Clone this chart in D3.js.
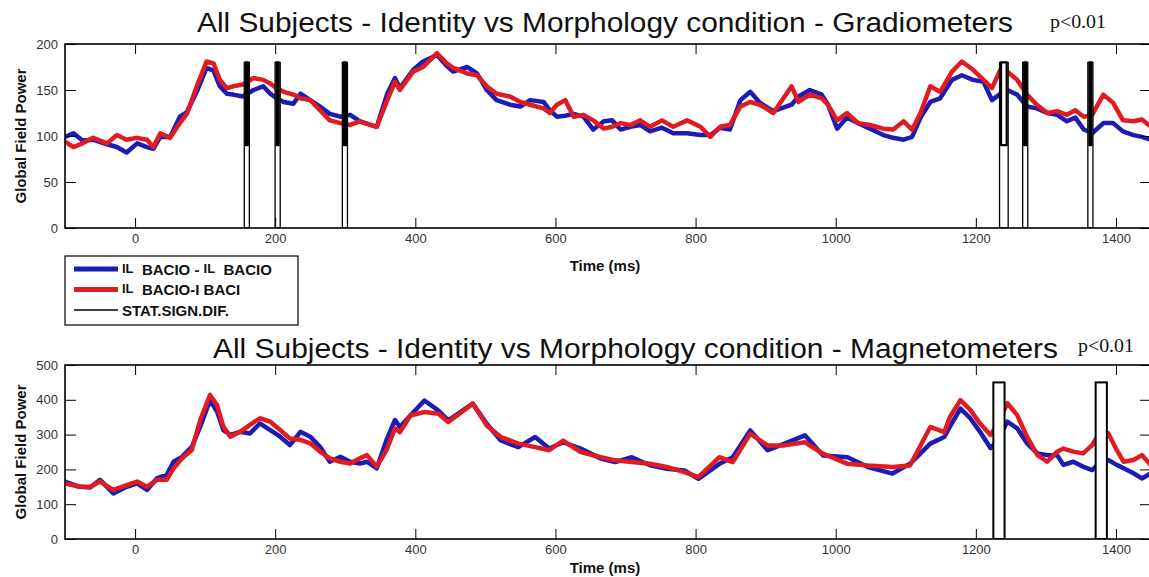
<!DOCTYPE html>
<html><head><meta charset="utf-8">
<script src="https://cdn.jsdelivr.net/npm/d3@7"></script>
<style>body{margin:0;background:#fff}svg{display:block}</style>
</head><body><svg id="c" width="1149" height="577"></svg>
<script>
// ---------- data ----------
const xTicks = [0,200,400,600,800,1000,1200,1400];
const gradYTicks = [0,50,100,150,200];
const magYTicks = [0,100,200,300,400,500];

const gradTime = [-100,-88,-75,-60,-40,-26,-12,3,17,26,36,50,64,74,88,102,112,121,131,140,154,169,183,193,202,212,226,236,250,264,278,293,307,321,336,345,360,371,378,397,411,431,445,454,474,488,502,516,535,550,564,583,592,602,614,626,640,654,669,681,693,707,721,735,752,768,788,807,821,835,849,864,878,892,911,937,947,963,980,989,1002,1016,1032,1049,1068,1082,1097,1109,1121,1135,1149,1166,1180,1196,1211,1223,1235,1240,1245,1259,1273,1287,1302,1316,1330,1342,1354,1366,1382,1396,1410,1425,1437,1450];
const gradSame = [99,103,95,96,91,88,82,92,88,86,99,99,121,126,148,174,171,154,146,145,143,150,154,146,141,137,135,146,139,132,124,121,123,116,112,110,146,163,152,172,181,188,176,170,175,168,150,139,134,132,139,137,128,121,122,124,121,107,116,117,107,110,112,105,109,103,103,101,101,109,107,139,148,136,127,134,143,150,145,134,108,120,114,108,101,98,96,99,120,137,141,161,166,161,159,139,146,149,150,145,132,130,125,123,116,120,107,103,114,114,105,101,99,96];
const gradDiff = [94,88,92,98,92,101,96,98,96,88,103,98,114,124,154,181,179,161,152,154,156,163,161,157,152,148,145,141,139,128,117,114,112,116,112,110,139,159,150,170,175,190,179,174,168,166,154,146,143,137,134,130,125,134,139,121,123,117,108,110,114,112,117,110,117,110,117,110,99,110,112,132,137,134,125,154,137,145,141,134,117,125,114,112,108,107,116,107,125,154,148,170,181,172,161,152,172,177,170,161,145,134,125,127,123,128,121,123,145,136,117,116,118,110];
const gradSig = [[158,161],[202,205],[298,301],[1236,1244],[1269,1272],[1362,1365]];
const gradSigLevels = [0,90,180];

const magTime = [-100,-79,-64,-50,-31,-12,3,17,31,45,55,67,81,93,107,117,126,136,150,164,178,193,207,221,236,250,264,278,293,307,321,331,345,359,371,378,393,413,433,447,482,502,522,547,571,591,611,636,665,685,709,735,759,784,804,834,853,878,903,927,956,982,1017,1046,1081,1106,1135,1155,1163,1178,1192,1206,1221,1230,1245,1259,1273,1288,1302,1316,1325,1339,1353,1366,1378,1389,1401,1411,1425,1437,1450];
const magSame = [165,150,148,170,131,150,160,141,174,184,222,236,265,323,399,366,313,299,308,303,332,313,294,270,308,294,265,222,236,222,217,222,203,285,342,322,355,398,369,341,389,331,283,264,293,260,278,260,231,221,235,212,202,197,173,216,235,312,255,274,298,240,235,207,188,216,274,293,323,375,347,308,261,280,337,318,275,246,241,241,213,222,208,198,222,227,213,203,189,174,189];
const magDiff = [160,150,150,165,141,155,165,150,170,170,203,232,256,342,414,385,323,294,308,328,347,337,313,289,285,275,251,232,222,217,232,241,208,256,318,307,355,365,360,336,389,326,293,274,264,255,283,250,235,226,221,216,207,192,178,235,221,302,269,269,278,245,216,211,207,211,322,307,351,399,371,332,299,327,390,356,294,241,222,251,260,251,246,270,308,304,256,222,227,241,212];
const magSig = [[1225,1241],[1371,1387]];
const magSigLevels = [0,450];

const titles = ["All Subjects - Identity vs Morphology condition - Gradiometers",
                "All Subjects - Identity vs Morphology condition - Magnetometers"];
const pLabel = "p<0.01";
const yLabel = "Global Field Power";
const xLabel = "Time (ms)";
const legendItems = [
  {pre:"IL", text:"  BACIO - ", pre2:"IL", text2:"  BACIO", color:"#1c1cb4", w:5},
  {pre:"IL", text:"  BACIO-I BACI", color:"#e01c22", w:5},
  {pre:"", text:"STAT.SIGN.DIF.", color:"#000", w:1.5}
];

// ---------- drawing ----------
const svg = d3.select('#c');
const sans = '"Liberation Sans", Arial, Helvetica, sans-serif';
const serif = '"Liberation Serif", "Times New Roman", serif';
const L = 65, R = 1151;
const x = d3.scaleLinear().domain([-100,1450]).range([L,R]);
const BLUE = "#1c1cb4", RED = "#e01c22";

function panel(o){
  const y = d3.scaleLinear().domain(o.yDomain).range([o.bottom,o.top]);
  const clipId = 'clip'+o.id;
  svg.append('clipPath').attr('id',clipId).append('rect')
    .attr('x',L).attr('y',o.top).attr('width',R-L).attr('height',o.bottom-o.top);
  const g = svg.append('g').attr('clip-path',`url(#${clipId})`);
  const line = d3.line().x((d,i)=>x(o.time[i])).y(d=>y(d));
  g.append('path').datum(o.same).attr('d',line).attr('fill','none')
    .attr('stroke',BLUE).attr('stroke-width',4.5).attr('stroke-linejoin','round').attr('stroke-linecap','round');
  g.append('path').datum(o.diff).attr('d',line).attr('fill','none')
    .attr('stroke',RED).attr('stroke-width',4.5).attr('stroke-linejoin','round').attr('stroke-linecap','round');

  // significance bars
  o.sig.forEach(([s,e])=>{
    const lv = o.levels;
    const top = lv[lv.length-1];
    const w = x(e)-x(s);
    const pad = lv.length>2 ? 1.5 : 0;
    g.append('rect').attr('x',x(s)-pad).attr('width',w+2*pad)
      .attr('y',y(top)).attr('height',y(lv[0])-y(top))
      .attr('fill','#fff').attr('stroke','#000').attr('stroke-width',o.thin);
    if(lv.length>2){
      g.append('rect').attr('x',x(s)).attr('width',w)
        .attr('y',y(top)).attr('height',y(lv[1])-y(top))
        .attr('fill', w>4 ? '#fff' : '#000').attr('stroke','#000').attr('stroke-width',2.2).attr('stroke-linejoin','round');
    }
  });

  // axes
  const ax = svg.append('g').attr('font-family',sans);
  ax.append('g').attr('transform',`translate(0,${o.bottom})`)
    .call(d3.axisBottom(x).tickValues(xTicks).tickSize(-10).tickPadding(6).tickFormat(d3.format('d')));
  ax.append('g').attr('transform',`translate(0,${o.top})`)
    .call(d3.axisTop(x).tickValues(xTicks).tickSize(-10).tickFormat(''));
  ax.append('g').attr('transform',`translate(${L},0)`)
    .call(d3.axisLeft(y).tickValues(o.yTicks).tickSize(-11).tickPadding(7));
  ax.append('g').attr('transform',`translate(${R},0)`)
    .call(d3.axisRight(y).tickValues(o.yTicks).tickSize(-11).tickFormat(''));
  ax.selectAll('.domain').remove();
  ax.selectAll('.tick line').attr('stroke','#000').attr('stroke-width',1);
  ax.selectAll('.tick text').attr('font-size',13).attr('fill','#333').attr('font-family',sans);
  svg.append('rect').attr('x',L).attr('y',o.top).attr('width',R-L).attr('height',o.bottom-o.top)
    .attr('fill','none').attr('stroke','#000').attr('stroke-width',1.6);

  // labels
  svg.append('text').attr('x',o.titleX).attr('y',o.titleY).attr('font-family',sans).attr('font-size',27)
    .attr('fill','#111').attr('textLength',o.titleW).attr('lengthAdjust','spacingAndGlyphs').text(o.title);
  svg.append('text').attr('x',o.pX).attr('y',o.pY).attr('font-family',serif).attr('font-size',18)
    .attr('fill','#111').attr('textLength',56).attr('lengthAdjust','spacingAndGlyphs').text(pLabel);
  svg.append('text').attr('transform',`translate(26,${(o.top+o.bottom)/2}) rotate(-90)`)
    .attr('text-anchor','middle').attr('font-family',sans).attr('font-weight','bold').attr('font-size',15)
    .attr('fill','#111').text(yLabel);
  svg.append('text').attr('x',605).attr('y',o.xLabelY).attr('text-anchor','middle').attr('font-family',sans)
    .attr('font-weight','bold').attr('font-size',15).attr('fill','#111').text(xLabel);
}

panel({id:1, top:44, bottom:228, yDomain:[0,200], yTicks:gradYTicks, time:gradTime, same:gradSame, diff:gradDiff,
  sig:gradSig, levels:gradSigLevels, thin:1.3, title:titles[0], titleX:197, titleY:32, titleW:816, pX:1050, pY:28, xLabelY:271});
panel({id:2, top:365, bottom:539, yDomain:[0,500], yTicks:magYTicks, time:magTime, same:magSame, diff:magDiff,
  sig:magSig, levels:magSigLevels, thin:2, title:titles[1], titleX:213, titleY:358, titleW:845, pX:1078, pY:352, xLabelY:573});

// legend
const lg = svg.append('g');
lg.append('rect').attr('x',65).attr('y',256).attr('width',233).attr('height',69)
  .attr('fill','#fff').attr('stroke','#000').attr('stroke-width',1.2);
legendItems.forEach((it,i)=>{
  const cy = 269 + i*20.5;
  lg.append('line').attr('x1',74).attr('x2',118).attr('y1',cy).attr('y2',cy)
    .attr('stroke',it.color).attr('stroke-width',it.w);
  const t = lg.append('text').attr('x',122).attr('y',cy+5.5).attr('font-family',sans)
    .attr('font-weight','bold').attr('font-size',15).attr('fill','#111').attr('xml:space','preserve');
  if(it.pre) t.append('tspan').attr('font-size',13).attr('dy',-2).text(it.pre);
  t.append('tspan').attr('dy',it.pre?2:0).text(it.text);
  if(it.pre2){
    t.append('tspan').attr('font-size',13).attr('dy',-2).text(it.pre2);
    t.append('tspan').attr('dy',2).text(it.text2);
  }
});
</script></body></html>
